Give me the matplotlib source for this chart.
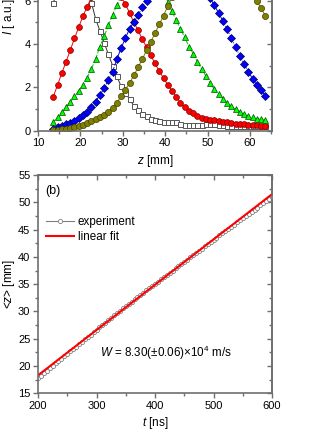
import numpy as np
import matplotlib
matplotlib.use("Agg")
import matplotlib.pyplot as plt
from matplotlib.ticker import MultipleLocator

plt.rcParams['font.family'] = ['Liberation Sans', 'DejaVu Sans']
plt.rcParams['font.size'] = 8
plt.rcParams['mathtext.fontset'] = 'custom'
plt.rcParams['mathtext.it'] = 'Liberation Sans:italic'
plt.rcParams['mathtext.rm'] = 'Liberation Sans'

# ---- panel (a): intensity profiles along z ----
z_mm = [13.6, 14.6, 15.6, 16.6, 17.6, 18.6, 19.6, 20.6, 21.6, 22.6,
        23.6, 24.6, 25.6, 26.6, 27.6, 28.6, 29.6, 30.6, 31.6, 32.6,
        33.6, 34.6, 35.6, 36.6, 37.6, 38.6, 39.6, 40.6, 41.6, 42.6,
        43.6, 44.6, 45.6, 46.6, 47.6, 48.6, 49.6, 50.6, 51.6, 52.6,
        53.6, 54.6, 55.6, 56.6, 57.6, 58.6, 59.6, 60.6, 61.6, 62.6, 63.6]

I_sq = [5.9, 6.4, 6.9, 7.3, 7.5, 7.6, 7.5, 7.2, 6.6, 5.9,
        5.15, 4.6, 4.05, 3.52, 3.0, 2.5, 2.05, 1.75, 1.45, 1.15,
        0.95, 0.78, 0.66, 0.55, 0.48, 0.43, 0.40, 0.40, 0.39, 0.38,
        0.30, 0.26, 0.25, 0.25, 0.26, 0.28, 0.30, 0.30, 0.29, 0.27,
        0.25, 0.24, 0.23, 0.22, 0.22, 0.21, 0.21, 0.21, 0.21, 0.20, 0.20]

I_red = [1.57, 2.1, 2.65, 3.17, 3.71, 4.25, 4.78, 5.28, 5.72, 6.15,
         6.5, 6.8, 7.0, 7.0, 6.8, 6.5, 6.15, 5.85, 5.42, 5.0,
         4.62, 4.22, 3.85, 3.47, 3.1, 2.75, 2.42, 2.12, 1.85, 1.55,
         1.3, 1.1, 0.92, 0.8, 0.68, 0.6, 0.55, 0.51, 0.48, 0.44,
         0.41, 0.38, 0.35, 0.33, 0.31, 0.29, 0.27, 0.26, 0.25, 0.24, 0.23]

I_green = [0.40, 0.62, 0.85, 1.08, 1.32, 1.58, 1.84, 2.12, 2.45, 2.85,
           3.32, 3.88, 4.35, 4.85, 5.35, 5.78, 6.2, 6.55, 6.85, 7.1,
           7.3, 7.4, 7.4, 7.3, 7.1, 6.8, 6.4, 5.95, 5.5, 5.08,
           4.7, 4.3, 3.88, 3.55, 3.18, 2.84, 2.52, 2.2, 1.9, 1.67,
           1.47, 1.28, 1.12, 0.98, 0.87, 0.77, 0.69, 0.62, 0.56, 0.52, 0.48]

I_blue = [0.06, 0.18, 0.23, 0.29, 0.37, 0.46, 0.57, 0.72, 0.88, 1.08,
          1.34, 1.65, 1.95, 2.34, 2.72, 3.3, 3.8, 4.27, 4.7, 5.02,
          5.33, 5.68, 6.0, 6.35, 6.65, 6.95, 7.2, 7.4, 7.55, 7.62,
          7.6, 7.5, 7.35, 7.15, 6.95, 6.7, 6.4, 6.1, 5.78, 5.42,
          5.06, 4.68, 4.25, 3.85, 3.45, 3.08, 2.72, 2.4, 2.1, 1.86, 1.62]

I_olive = [0.02, 0.04, 0.07, 0.1, 0.13, 0.17, 0.22, 0.28, 0.35, 0.43,
           0.52, 0.62, 0.74, 0.88, 1.07, 1.3, 1.58, 1.88, 2.2, 2.55,
           2.92, 3.3, 3.7, 4.1, 4.5, 4.9, 5.3, 5.75, 6.15, 6.5,
           6.8, 7.05, 7.25, 7.42, 7.55, 7.62, 7.65, 7.63, 7.58, 7.5,
           7.42, 7.32, 7.2, 7.05, 6.88, 6.7, 6.5, 6.27, 5.98, 5.65, 5.3]

# ---- panel (b): centroid position vs time ----
t_ns = [200, 205, 210, 215, 220, 225, 230, 235, 240, 245,
        250, 255, 260, 265, 270, 275, 280, 285, 290, 295,
        300, 305, 310, 315, 320, 325, 330, 335, 340, 345,
        350, 355, 360, 365, 370, 375, 380, 385, 390, 395,
        400, 405, 410, 415, 420, 425, 430, 435, 440, 445,
        450, 455, 460, 465, 470, 475, 480, 485, 490, 495,
        500, 505, 510, 515, 520, 525, 530, 535, 540, 545,
        550, 555, 560, 565, 570, 575, 580, 585, 590, 595, 600]
z_exp = [17.80, 18.24, 18.68, 19.13, 19.58, 20.02, 20.47, 20.91, 21.36, 21.80,
         22.25, 22.69, 23.13, 23.57, 24.01, 24.45, 24.89, 25.33, 25.77, 26.21,
         26.65, 27.09, 27.53, 27.96, 28.40, 28.83, 29.26, 29.69, 30.12, 30.55,
         30.97, 31.39, 31.81, 32.23, 32.64, 33.05, 33.46, 33.87, 34.27, 34.68,
         35.08, 35.48, 35.88, 36.28, 36.68, 37.09, 37.49, 37.90, 38.30, 38.70,
         39.10, 39.50, 39.90, 40.31, 40.71, 41.12, 41.52, 41.92, 42.32, 42.72,
         43.12, 43.53, 43.93, 44.33, 44.73, 45.13, 45.53, 45.93, 46.32, 46.72,
         47.11, 47.50, 47.88, 48.27, 48.65, 49.04, 49.42, 49.80, 50.17, 50.54, 50.90]
t_fit = [200, 600]
z_fit = [18.3, 51.5]

spine_col = '#6e6e6e'


def style_axes(ax, xmaj, xmin, ymaj, ymin):
    for s in ax.spines.values():
        s.set_color(spine_col)
        s.set_linewidth(1.2)
    ax.xaxis.set_major_locator(MultipleLocator(xmaj))
    ax.xaxis.set_minor_locator(MultipleLocator(xmin))
    ax.yaxis.set_major_locator(MultipleLocator(ymaj))
    ax.yaxis.set_minor_locator(MultipleLocator(ymin))
    ax.tick_params(which='both', direction='out', color=spine_col, width=1.0,
                   labelsize=8, pad=2)
    ax.tick_params(which='major', length=3.5)
    ax.tick_params(which='minor', length=2)
    # inward ticks on the opposite sides
    top = ax.secondary_xaxis('top')
    top.xaxis.set_major_locator(MultipleLocator(xmaj))
    top.xaxis.set_minor_locator(MultipleLocator(xmin))
    top.tick_params(which='both', direction='in', labeltop=False, color=spine_col, width=1.0)
    top.tick_params(which='major', length=3.5)
    top.tick_params(which='minor', length=2)
    right = ax.secondary_yaxis('right')
    right.yaxis.set_major_locator(MultipleLocator(ymaj))
    right.yaxis.set_minor_locator(MultipleLocator(ymin))
    right.tick_params(which='both', direction='in', labelright=False, color=spine_col, width=1.0)
    right.tick_params(which='major', length=3.5)
    right.tick_params(which='minor', length=2)
    for sec in (top, right):
        for s in sec.spines.values():
            s.set_color(spine_col)
            s.set_linewidth(1.2)


fig = plt.figure(figsize=(3.32, 4.30), dpi=100)

ax1 = fig.add_axes([0.1145, 0.696, 0.705, 0.4037])
ax1.plot(z_mm, I_sq, '-', color='#333333', lw=0.7, marker='s', ms=3.6,
         mfc='white', mec='#555555', mew=0.7)
ax1.plot(z_mm, I_red, '-', color='red', lw=0.7, marker='o', ms=4.2,
         mfc='red', mec='#800000', mew=0.5)
ax1.plot(z_mm, I_green, '--', color='#00cc00', lw=0.7, marker='^', ms=4.6,
         mfc='#00ff00', mec='#005000', mew=0.5)
ax1.plot(z_mm, I_blue, '-.', color='blue', lw=0.7, marker='D', ms=3.8,
         mfc='#0000ff', mec='#000060', mew=0.5)
ax1.plot(z_mm, I_olive, '-', color='#808000', lw=0.7, marker='o', ms=4.4,
         mfc='#808000', mec='#404000', mew=0.5)
ax1.set_xlim(10, 65.2)
ax1.set_ylim(0, 8)
style_axes(ax1, 10, 5, 2, 1)
ax1.set_xlabel('$z$ [mm]', fontsize=8.5, labelpad=3)
ax1.set_ylabel('$I$ [ a.u.]', fontsize=8.5)
ax1.yaxis.set_label_coords(-0.088, 0.66)

ax2 = fig.add_axes([0.1145, 0.0853, 0.705, 0.5077])
ax2.plot(t_ns, z_exp, '-', color='#808080', lw=0.8, marker='o', ms=3,
         mfc='white', mec='#808080', mew=0.6, label='experiment')
ax2.plot(t_fit, z_fit, '-', color='red', lw=1.5, label='linear fit')
ax2.set_xlim(200, 600)
ax2.set_ylim(15, 55)
style_axes(ax2, 100, 50, 5, 2.5)
ax2.set_xlabel('$t$ [ns]', fontsize=8.5, labelpad=3)
ax2.set_ylabel('<$z$> [mm]', fontsize=8.5)
ax2.yaxis.set_label_coords(-0.088, 0.5)
ax2.text(0.03, 0.925, '(b)', transform=ax2.transAxes, fontsize=9, va='center')
ax2.legend(loc='upper left', bbox_to_anchor=(0.0, 0.85), frameon=False,
           fontsize=8.4, handlelength=2.4, handletextpad=0.3, labelspacing=0.3,
           borderaxespad=0.3)
ax2.text(306, 22.4, '$W$ = 8.30(±0.06)×10$^4$ m/s', fontsize=8.4, va='center')

fig.savefig('out.png', dpi=100)
